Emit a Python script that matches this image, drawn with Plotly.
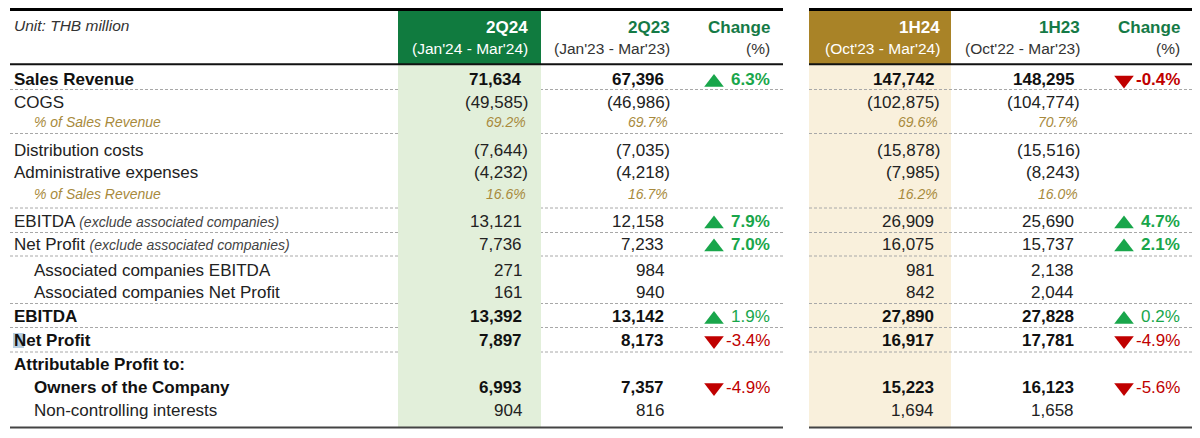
import plotly.graph_objects as go

# ---------------- data ----------------
row_labels = ["Sales Revenue", "COGS", "% of Sales Revenue", "Distribution costs",
              "Administrative expenses", "% of Sales Revenue", "EBITDA", "Net Profit",
              "Associated companies EBITDA", "Associated companies Net Profit", "EBITDA",
              "Net Profit", "Attributable Profit to:", "Owners of the Company",
              "Non-controlling interests"]
row_notes = ["", "", "", "", "", "", "(exclude associated companies)",
             "(exclude associated companies)", "", "", "", "", "", "", ""]
q2_24 = [71634, -49585, 69.2, -7644, -4232, 16.6, 13121, 7736, 271, 161, 13392, 7897, None, 6993, 904]
q2_23 = [67396, -46986, 69.7, -7035, -4218, 16.7, 12158, 7233, 984, 940, 13142, 8173, None, 7357, 816]
q_change = [6.3, None, None, None, None, None, 7.9, 7.0, None, None, 1.9, -3.4, None, -4.9, None]
h1_24 = [147742, -102875, 69.6, -15878, -7985, 16.2, 26909, 16075, 981, 842, 27890, 16917, None, 15223, 1694]
h1_23 = [148295, -104774, 70.7, -15516, -8243, 16.0, 25690, 15737, 2138, 2044, 27828, 17781, None, 16123, 1658]
h_change = [-0.4, None, None, None, None, None, 4.7, 2.1, None, None, 0.2, -4.9, None, -5.6, None]

unit_label = "Unit: THB million"
left_headers = [("2Q24", "(Jan'24 - Mar'24)"), ("2Q23", "(Jan'23 - Mar'23)"), ("Change", "(%)")]
right_headers = [("1H24", "(Oct'23 - Mar'24)"), ("1H23", "(Oct'22 - Mar'23)"), ("Change", "(%)")]

# ---------------- layout / style ----------------
row_style = ["bold", "reg", "pct", "reg", "reg", "pct", "reg", "reg", "sub", "sub",
             "bold", "bold", "bold", "boldsub", "sub"]
change_bold = [True, False, False, False, False, False, True, True, False, False,
               False, False, False, False, False]
row_y = [79.5, 102, 122, 150, 172.5, 194, 221, 244, 270.5, 292, 316.5, 340, 364, 387, 410]
dash_y = [89.5, 133.5, 208, 232.5, 256, 303.5, 327.5, 352]

FONT = "Liberation Sans, Arial, sans-serif"
GREEN_BOX = "#107b3f"
GOLD_BOX = "#a98327"
GREEN_FILL = "#e2efda"
CREAM_FILL = "#f9f0dc"
HEAD_GREEN = "#157a46"
UP_GREEN = "#19a64b"
DOWN_RED = "#c00000"
PCT_GOLD = "#a88a3c"

tables = [
    dict(x0=10, x1=783, c1=530, c2=671.5, c3=772, tri=714, v1=q2_24, v2=q2_23, ch=q_change,
         box=GREEN_BOX, fill=GREEN_FILL, fill_x0=398, fill_x1=541, heads=left_headers, fill_top=True),
    dict(x0=809, x1=1192, c1=942, c2=1082, c3=1182, tri=1124, v1=h1_24, v2=h1_23, ch=h_change,
         box=GOLD_BOX, fill=CREAM_FILL, fill_x0=809, fill_x1=951, heads=right_headers, fill_top=False),
]

fig = go.Figure()
shapes = []
annotations = []


def ann(x, y, text, anchor="right", size=17, color="#222", font=FONT):
    annotations.append(dict(x=x, y=y, xref="x", yref="y", text=text, showarrow=False,
                            xanchor=anchor, yanchor="middle", align=anchor,
                            font=dict(family=font, size=size, color=color)))


def fmt_num(v):
    s = f"{abs(v):,.0f}"
    return f"({s})" if v < 0 else s


for t in tables:
    fill_shape = dict(type="rect", x0=t["fill_x0"], x1=t["fill_x1"], y0=65, y1=427,
                      fillcolor=t["fill"], line=dict(width=0), layer="below")
    if not t["fill_top"]:
        shapes.append(fill_shape)
    for dy in dash_y:
        shapes.append(dict(type="line", x0=t["x0"], x1=t["x1"], y0=dy, y1=dy,
                           line=dict(color="#a8a8a8", width=1, dash="3px,2px"), layer="below"))
    if t["fill_top"]:
        shapes.append(fill_shape)
    shapes.append(dict(type="rect", x0=t["fill_x0"], x1=t["fill_x1"], y0=10, y1=64,
                       fillcolor=t["box"], line=dict(width=0), layer="below"))
    shapes.append(dict(type="line", x0=t["x0"], x1=t["x1"], y0=9.5, y1=9.5,
                       line=dict(color="#000", width=3), layer="below"))
    shapes.append(dict(type="line", x0=t["x0"], x1=t["x1"], y0=64.3, y1=64.3,
                       line=dict(color="#111", width=2), layer="below"))
    shapes.append(dict(type="line", x0=t["x0"], x1=t["x1"], y0=427.5, y1=427.5,
                       line=dict(color="#444", width=2), layer="below"))

    (h1, s1), (h2, s2), (h3, s3) = t["heads"]
    ann(t["c1"], 27, f"<b>{h1}</b>", color="#ffffff")
    ann(t["c1"], 48, s1, size=15.5, color="#ffffff")
    ann(t["c2"], 27, f"<b>{h2}</b>", color=HEAD_GREEN)
    ann(t["c2"], 48, s2, size=15.5, color="#333")
    ann(t["c3"], 27, f"<b>{h3}</b>", color=HEAD_GREEN)
    ann(t["c3"], 48, s3, size=15.5, color="#333")

    up_x, up_y, dn_x, dn_y = [], [], [], []
    for i, y in enumerate(row_y):
        st = row_style[i]
        for col, vals in ((t["c1"], t["v1"]), (t["c2"], t["v2"])):
            v = vals[i]
            if v is None:
                continue
            if st == "pct":
                ann(col - 2, y, f"<i>{v:.1f}%</i>", size=14, color=PCT_GOLD)
            else:
                txt = fmt_num(v)
                x = col if v < 0 else col - 6
                if st in ("bold", "boldsub"):
                    ann(x, y, f"<b>{txt}</b>", color="#111")
                else:
                    ann(x, y, txt, color="#222")
        c = t["ch"][i]
        if c is not None:
            col = UP_GREEN if c >= 0 else DOWN_RED
            txt = f"{c:.1f}%"
            if change_bold[i]:
                txt = f"<b>{txt}</b>"
            ann(t["c3"], y, txt, color=col)
            if c >= 0:
                up_x.append(t["tri"]); up_y.append(y + 3)
            else:
                dn_x.append(t["tri"]); dn_y.append(y + 0.5)
    fig.add_trace(go.Scatter(x=up_x, y=up_y, mode="markers", hoverinfo="skip",
                             marker=dict(symbol="triangle-up", size=17, color=UP_GREEN,
                                         line=dict(width=0))))
    fig.add_trace(go.Scatter(x=dn_x, y=dn_y, mode="markers", hoverinfo="skip",
                             marker=dict(symbol="triangle-down", size=17, color=DOWN_RED,
                                         line=dict(width=0))))

# selection artifact on the "N" of Net Profit
shapes.append(dict(type="rect", x0=13, x1=24, y0=333, y1=348, fillcolor="#b9cfe2",
                   line=dict(width=0), layer="below"))

ann(12, 25, f"<i>{unit_label}</i>", anchor="left", size=15.5, color="#333")
for i, y in enumerate(row_y):
    st = row_style[i]
    lab = row_labels[i]
    if st == "pct":
        ann(32, y, f"<i>{lab}</i>", anchor="left", size=14, color=PCT_GOLD)
        continue
    x = 32 if st in ("sub", "boldsub") else 12
    if st in ("bold", "boldsub"):
        txt = f"<b>{lab}</b>"
        color = "#111"
    else:
        txt = lab
        color = "#222"
    if row_notes[i]:
        txt += f" <span style='font-size:14px;color:#444'><i>{row_notes[i]}</i></span>"
    ann(x, y, txt, anchor="left", color=color)

fig.update_layout(
    width=1200, height=438, margin=dict(l=0, r=0, t=0, b=0),
    paper_bgcolor="white", plot_bgcolor="white", showlegend=False,
    xaxis=dict(range=[0, 1200], visible=False, fixedrange=True),
    yaxis=dict(range=[438, 0], visible=False, fixedrange=True),
    shapes=shapes, annotations=annotations,
)
fig.write_html("out.html", config={"displayModeBar": False},
               post_script="document.body.style.margin='0';document.body.style.overflow='hidden';")
